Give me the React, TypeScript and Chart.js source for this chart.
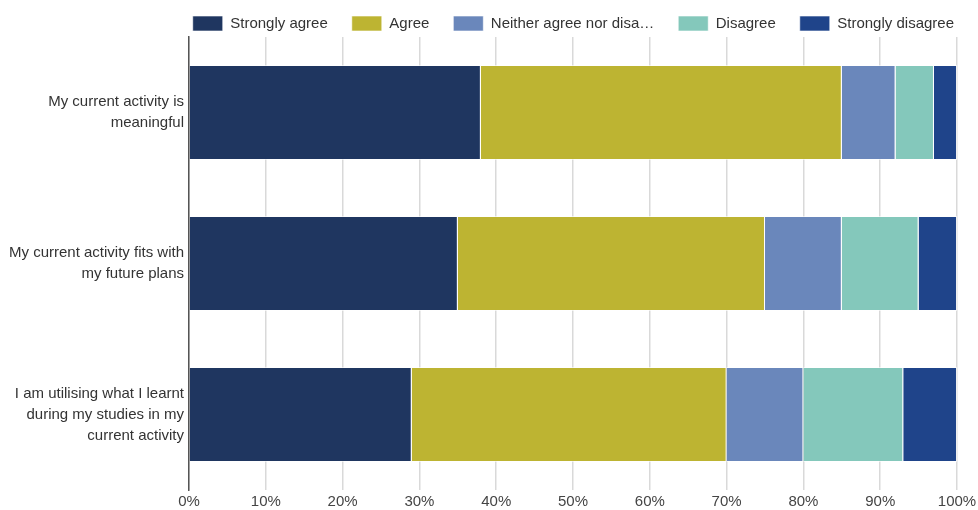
import React, { useEffect, useRef } from "react";
import { Chart, registerables } from "chart.js";

Chart.register(...registerables);

const categories: string[][] = [
  ["My current activity is", "meaningful"],
  ["My current activity fits with", "my future plans"],
  ["I am utilising what I learnt", "during my studies in my", "current activity"],
];

const seriesNames = [
  "Strongly agree",
  "Agree",
  "Neither agree nor disa\u2026",
  "Disagree",
  "Strongly disagree",
];

const stronglyAgree = [38, 35, 29];
const agree = [47, 40, 41];
const neither = [7, 10, 10];
const disagree = [5, 10, 13];
const stronglyDisagree = [3, 5, 7];

const colors = ["#1f3660", "#bdb432", "#6a87bb", "#84c8bb", "#1f448a"];

const xTicks = [0, 10, 20, 30, 40, 50, 60, 70, 80, 90, 100];

const FONT = "'Liberation Sans', Arial, sans-serif";

const legendFitPatch = {
  id: "legendFitPatch",
  beforeLayout(chart: any) {
    const lg = chart.legend;
    if (lg && !lg._patched) {
      const orig = lg.fit.bind(lg);
      lg.fit = function () {
        orig();
        this.height -= 4;
      };
      lg._patched = true;
    }
  },
};

export default function App() {
  const ref = useRef<HTMLCanvasElement | null>(null);
  useEffect(() => {
    if (!ref.current) return;
    const values = [stronglyAgree, agree, neither, disagree, stronglyDisagree];
    const chart = new Chart(ref.current, {
      type: "bar",
      plugins: [legendFitPatch],
      data: {
        labels: categories,
        datasets: seriesNames.map((name, i) => ({
          label: name,
          data: values[i],
          backgroundColor: colors[i],
          borderColor: "rgba(255,255,255,0.6)",
          borderWidth: 1,
          categoryPercentage: 1,
          barPercentage: 0.63,
        })),
      },
      options: {
        indexAxis: "y",
        animation: false,
        responsive: true,
        maintainAspectRatio: false,
        layout: { padding: { left: 4, right: 0, top: -8, bottom: -4 } },
        plugins: {
          tooltip: { enabled: false },
          legend: {
            position: "top",
            align: "end",
            labels: {
              boxWidth: 30,
              boxHeight: 15,
              padding: 24,
              color: "#333",
              font: { family: FONT, size: 15 },
            },
          },
        },
        scales: {
          x: {
            stacked: true,
            min: 0,
            max: 100,
            afterBuildTicks: (scale: any) => {
              scale.ticks = xTicks.map((v) => ({ value: v }));
            },
            afterFit: (s: any) => {
              s.paddingRight = 21;
            },
            ticks: {
              callback: (v: any) => v + "%",
              color: "#444",
              padding: 3,
              font: { family: FONT, size: 15 },
            },
            grid: { color: "#d9d9d9", lineWidth: 1.5, drawTicks: false },
            border: { display: false },
          },
          y: {
            stacked: true,
            afterFit: (s: any) => {
              s.paddingTop = 0;
              s.paddingBottom = 0;
            },
            ticks: {
              color: "#333",
              padding: 5,
              font: { family: FONT, size: 15, lineHeight: 1.4 },
            },
            grid: { display: false, drawTicks: false },
            border: { display: true, color: "#555", width: 1.5 },
          },
        },
      },
    });
    return () => chart.destroy();
  }, []);
  return (
    <div style={{ position: "fixed", left: 0, top: 0, width: 978, height: 510, background: "#fff" }}>
      <canvas ref={ref} />
    </div>
  );
}
